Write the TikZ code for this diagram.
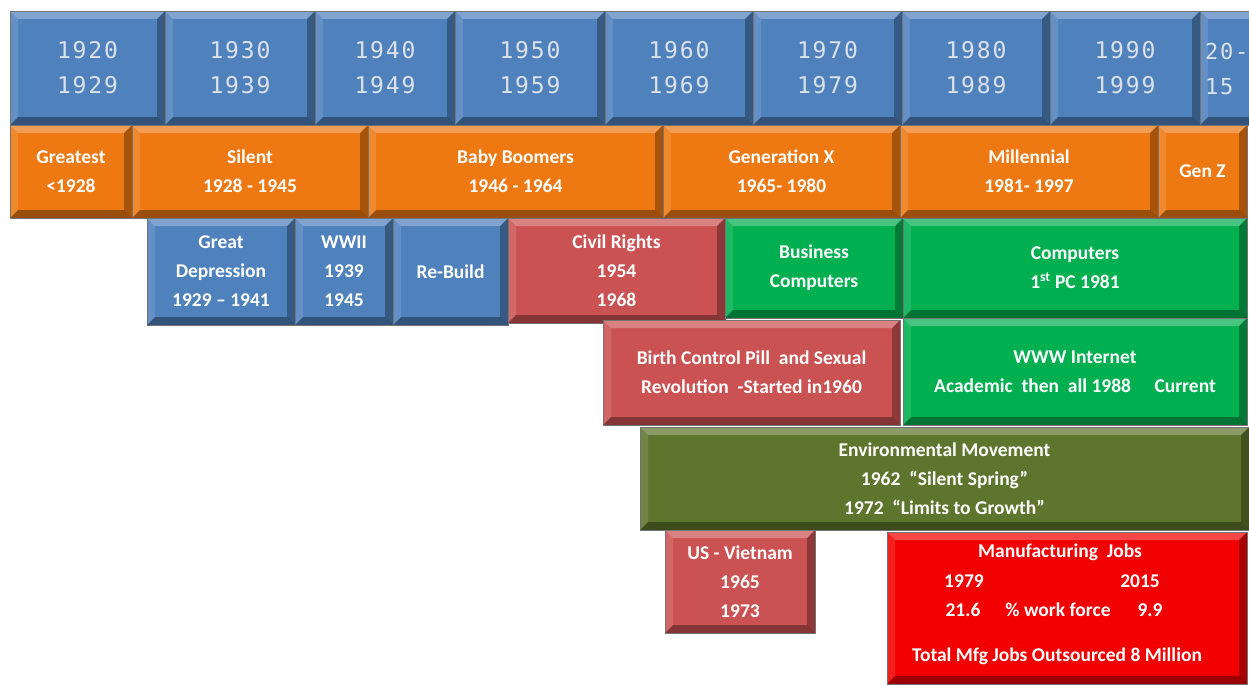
\documentclass[tikz,border=0pt]{standalone}
\usepackage{fontspec}
\setmainfont{Carlito}
\newfontfamily\decfont[LetterSpace=8]{DejaVu Sans Mono}
\definecolor{decblue}{RGB}{79,129,189}
\definecolor{orng}{RGB}{238,120,18}
\definecolor{civred}{RGB}{203,82,82}
\definecolor{grn}{RGB}{0,176,80}
\definecolor{olivegr}{RGB}{94,117,46}
\definecolor{brred}{RGB}{242,0,0}
\definecolor{dectext}{RGB}{220,225,232}
\tikzset{
  bevel/.style={path picture={
    \fill[white,opacity=.28] (path picture bounding box.north west) -- (path picture bounding box.north east) -- ([xshift=-8pt,yshift=-8pt]path picture bounding box.north east) -- ([xshift=8pt,yshift=-8pt]path picture bounding box.north west) -- cycle;
    \fill[white,opacity=.12] (path picture bounding box.north west) -- ([xshift=8pt,yshift=-8pt]path picture bounding box.north west) -- ([xshift=8pt,yshift=8pt]path picture bounding box.south west) -- (path picture bounding box.south west) -- cycle;
    \fill[black,opacity=.30] (path picture bounding box.north east) -- ([xshift=-8pt,yshift=-8pt]path picture bounding box.north east) -- ([xshift=-8pt,yshift=8pt]path picture bounding box.south east) -- (path picture bounding box.south east) -- cycle;
    \fill[black,opacity=.35] (path picture bounding box.south west) -- ([xshift=8pt,yshift=8pt]path picture bounding box.south west) -- ([xshift=-8pt,yshift=8pt]path picture bounding box.south east) -- (path picture bounding box.south east) -- cycle;
  }},
  bx/.style={rectangle, inner sep=0pt, outer sep=0pt, bevel, draw=black!55, line width=0.8pt,
    text=white, align=center, font=\bfseries\fontsize{19.5}{29}\selectfont},
  dec/.style={bx, font=\decfont\fontsize{23}{35}\selectfont, text=dectext},
  txt/.style={text=white, font=\bfseries\fontsize{19.5}{29}\selectfont, inner sep=0pt},
}
\newcommand\mkbox[8][bx]{% style, name, x1, y1, x2, y2, colour, text
  \node[#1, fill=#7, minimum width={(#5-#3)*1pt}, minimum height={(#6-#4)*1pt}]
    (#2) at ({(#3+#5)/2},{(#4+#6)/2}) {#8};}
\begin{document}
\begin{tikzpicture}[x=1pt,y=-1pt]
\useasboundingbox (0,0) rectangle (1249,685);
\clip (0,0) rectangle (1249,685);
\fill[white] (0,0) rectangle (1249,685);
% decades
\mkbox[dec]{d1920}{10}{11}{165}{125}{decblue}{1920\\1929}
\mkbox[dec]{d1930}{165}{11}{315}{125}{decblue}{1930\\1939}
\mkbox[dec]{d1940}{315}{11}{455}{125}{decblue}{1940\\1949}
\mkbox[dec]{d1950}{455}{11}{605}{125}{decblue}{1950\\1959}
\mkbox[dec]{d1960}{605}{11}{753}{125}{decblue}{1960\\1969}
\mkbox[dec]{d1970}{753}{11}{902}{125}{decblue}{1970\\1979}
\mkbox[dec]{d1980}{902}{11}{1050}{125}{decblue}{1980\\1989}
\mkbox[dec]{d1990}{1050}{11}{1200}{125}{decblue}{1990\\1999}
\mkbox[dec]{d2000}{1200}{11}{1350}{125}{decblue}{}
\node[anchor=west, inner sep=0pt, text=dectext, align=left, font=\decfont\fontsize{22}{35}\selectfont] (t2000) at (1205,69) {20-\\15};
% generations
\mkbox{gGreat}{10}{125}{132}{218}{orng}{Greatest\\<1928}
\mkbox{gSilent}{132}{125}{368}{218}{orng}{Silent\\1928 - 1945}
\mkbox{gBoom}{368}{125}{663}{218}{orng}{Baby Boomers\\1946 - 1964}
\mkbox{gX}{663}{125}{900}{218}{orng}{Generation X\\1965- 1980}
\mkbox{gMill}{900}{125}{1158}{218}{orng}{Millennial\\1981- 1997}
\mkbox{gZ}{1158}{125}{1247}{218}{orng}{Gen Z}
% row 3
\mkbox{gd}{147}{218}{295}{325}{decblue}{Great\\Depression\\1929 -- 1941}
\mkbox{ww}{295}{218}{393}{325}{decblue}{WWII\\1939\\1945}
\mkbox{rb}{393}{218}{508}{325}{decblue}{Re-Build}
\mkbox{cr}{508}{218}{725}{323}{civred}{Civil Rights\\1954\\1968}
\mkbox{bc}{725}{218}{903}{318}{grn}{Business\\Computers}
\mkbox{pc}{903}{218}{1247}{318}{grn}{Computers\\1\textsuperscript{st} PC 1981}
% row 4
\mkbox{bcp}{603}{320}{900}{425}{civred}{Birth Control Pill\ \ and Sexual\\Revolution\ \ -Started in1960}
\mkbox{www}{903}{318}{1247}{425}{grn}{WWW Internet\\Academic\ \ then\ \ all 1988\hspace{1.2em}Current}
% row 5
\mkbox{env}{640}{427}{1249}{530}{olivegr}{Environmental Movement\\1962\ \ “Silent Spring”\\1972\ \ “Limits to Growth”}
% row 6
\mkbox{vn}{665}{530}{815}{633}{civred}{US - Vietnam\\1965\\1973}
\mkbox{mfg}{887}{532}{1247}{684}{brred}{}
\node[txt] (m1) at (1060,552) {Manufacturing\ \ Jobs};
\node[txt] (m2) at (964,581) {1979};
\node[txt] (m3) at (1140,581) {2015};
\node[txt] (m4) at (963,610) {21.6};
\node[txt] (m5) at (1058,610) {\% work force};
\node[txt] (m6) at (1150,610) {9.9};
\node[txt] (m7) at (1057,656) {Total Mfg Jobs Outsourced 8 Million};
\end{tikzpicture}
\end{document}
